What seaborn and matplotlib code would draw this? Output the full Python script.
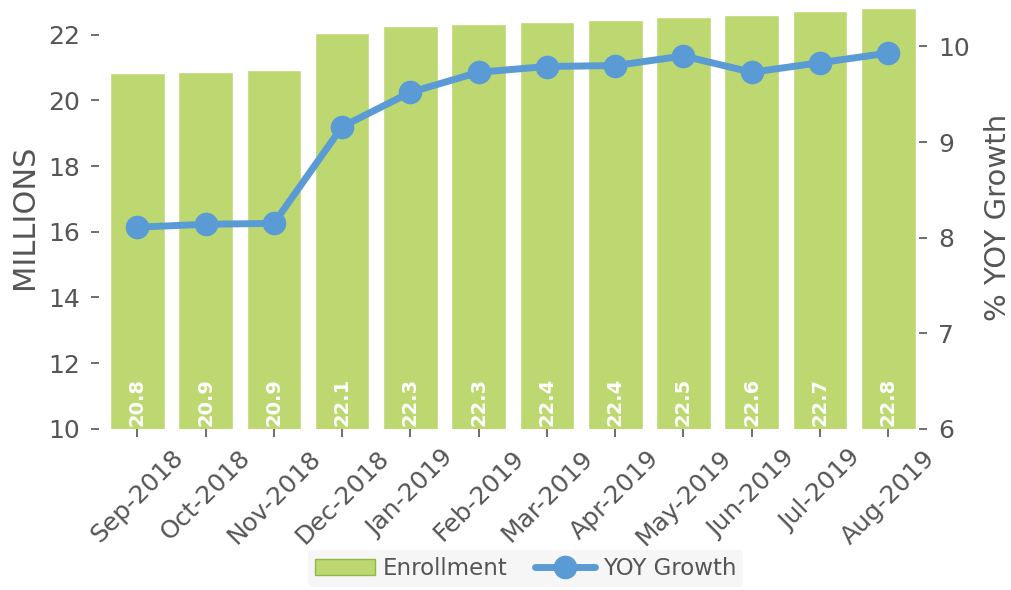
import numpy as np
import pandas as pd
import matplotlib
matplotlib.use("Agg")
import matplotlib.pyplot as plt
import seaborn as sns

# ----------------------------------
# Data
# ----------------------------------

months = ["Sep-2018", "Oct-2018", "Nov-2018", "Dec-2018", "Jan-2019", "Feb-2019",
          "Mar-2019", "Apr-2019", "May-2019", "Jun-2019", "Jul-2019", "Aug-2019"]
enrollment = [20.82, 20.87, 20.91, 22.06, 22.26, 22.33,
              22.37, 22.43, 22.52, 22.61, 22.71, 22.80]
yoy_growth = [8.11, 8.14, 8.15, 9.16, 9.52, 9.73,
              9.79, 9.80, 9.90, 9.73, 9.83, 9.93]

df = pd.DataFrame({"Month": months, "Enrollment": enrollment, "YOY": yoy_growth})

bar_color = "#bdd870"
line_color = "#5b9bd5"
text_color = "#555555"

# ----------------------------------
# Plot
# ----------------------------------

sns.set_style("white")
plt.rcParams["font.family"] = ["DejaVu Sans"]

fig = plt.figure(figsize=(10.11, 5.9), dpi=100)
ax = fig.add_axes([0.098, 0.273, 0.811, 0.718])

sns.barplot(data=df, x="Month", y="Enrollment", color=bar_color,
            saturation=1, width=0.8, ax=ax)

ax.set_ylim(10, 22.89)
ax.set_yticks([10, 12, 14, 16, 18, 20, 22])
ax.set_xlabel("")
ax.set_ylabel("MILLIONS", fontsize=22, color=text_color, labelpad=6)

for i, v in enumerate(enrollment):
    ax.text(i, 10.1, f"{v:.1f}", rotation=90, ha="center", va="bottom",
            color="white", fontsize=14, fontweight="bold")

ax2 = ax.twinx()
ax2.plot(range(len(months)), yoy_growth, color=line_color, linewidth=5,
         marker="o", markersize=16, label="YOY Growth")
ax2.set_ylim(6, 10.43)
ax2.set_yticks([6, 7, 8, 9, 10])
ax2.set_ylabel("% YOY Growth", fontsize=21, color=text_color, labelpad=10)

for a in (ax, ax2):
    for s in a.spines.values():
        s.set_visible(False)
    a.tick_params(colors=text_color, labelsize=18, length=6, width=1.2, pad=8)

ax.tick_params(bottom=True, left=True)
ax2.tick_params(right=True)
ax.tick_params(axis="x", rotation=45, pad=6)
ax.set_xlim(-0.56, len(months) - 0.55)

bar_handle = matplotlib.patches.Patch(facecolor=bar_color, edgecolor="#8fb84a",
                                      label="Enrollment")
h2, l2 = ax2.get_legend_handles_labels()
leg = fig.legend([bar_handle] + h2, ["Enrollment"] + l2, loc="lower center",
                 ncol=2, bbox_to_anchor=(0.52, -0.014), fontsize=16.5,
                 frameon=True, handlelength=2.6, columnspacing=1.2,
                 handletextpad=0.35, borderpad=0.3)
leg.get_frame().set_facecolor("#f4f4f4")
leg.get_frame().set_edgecolor("none")
for t in leg.get_texts():
    t.set_color(text_color)

fig.savefig("out.png", dpi=100)
plt.close()
